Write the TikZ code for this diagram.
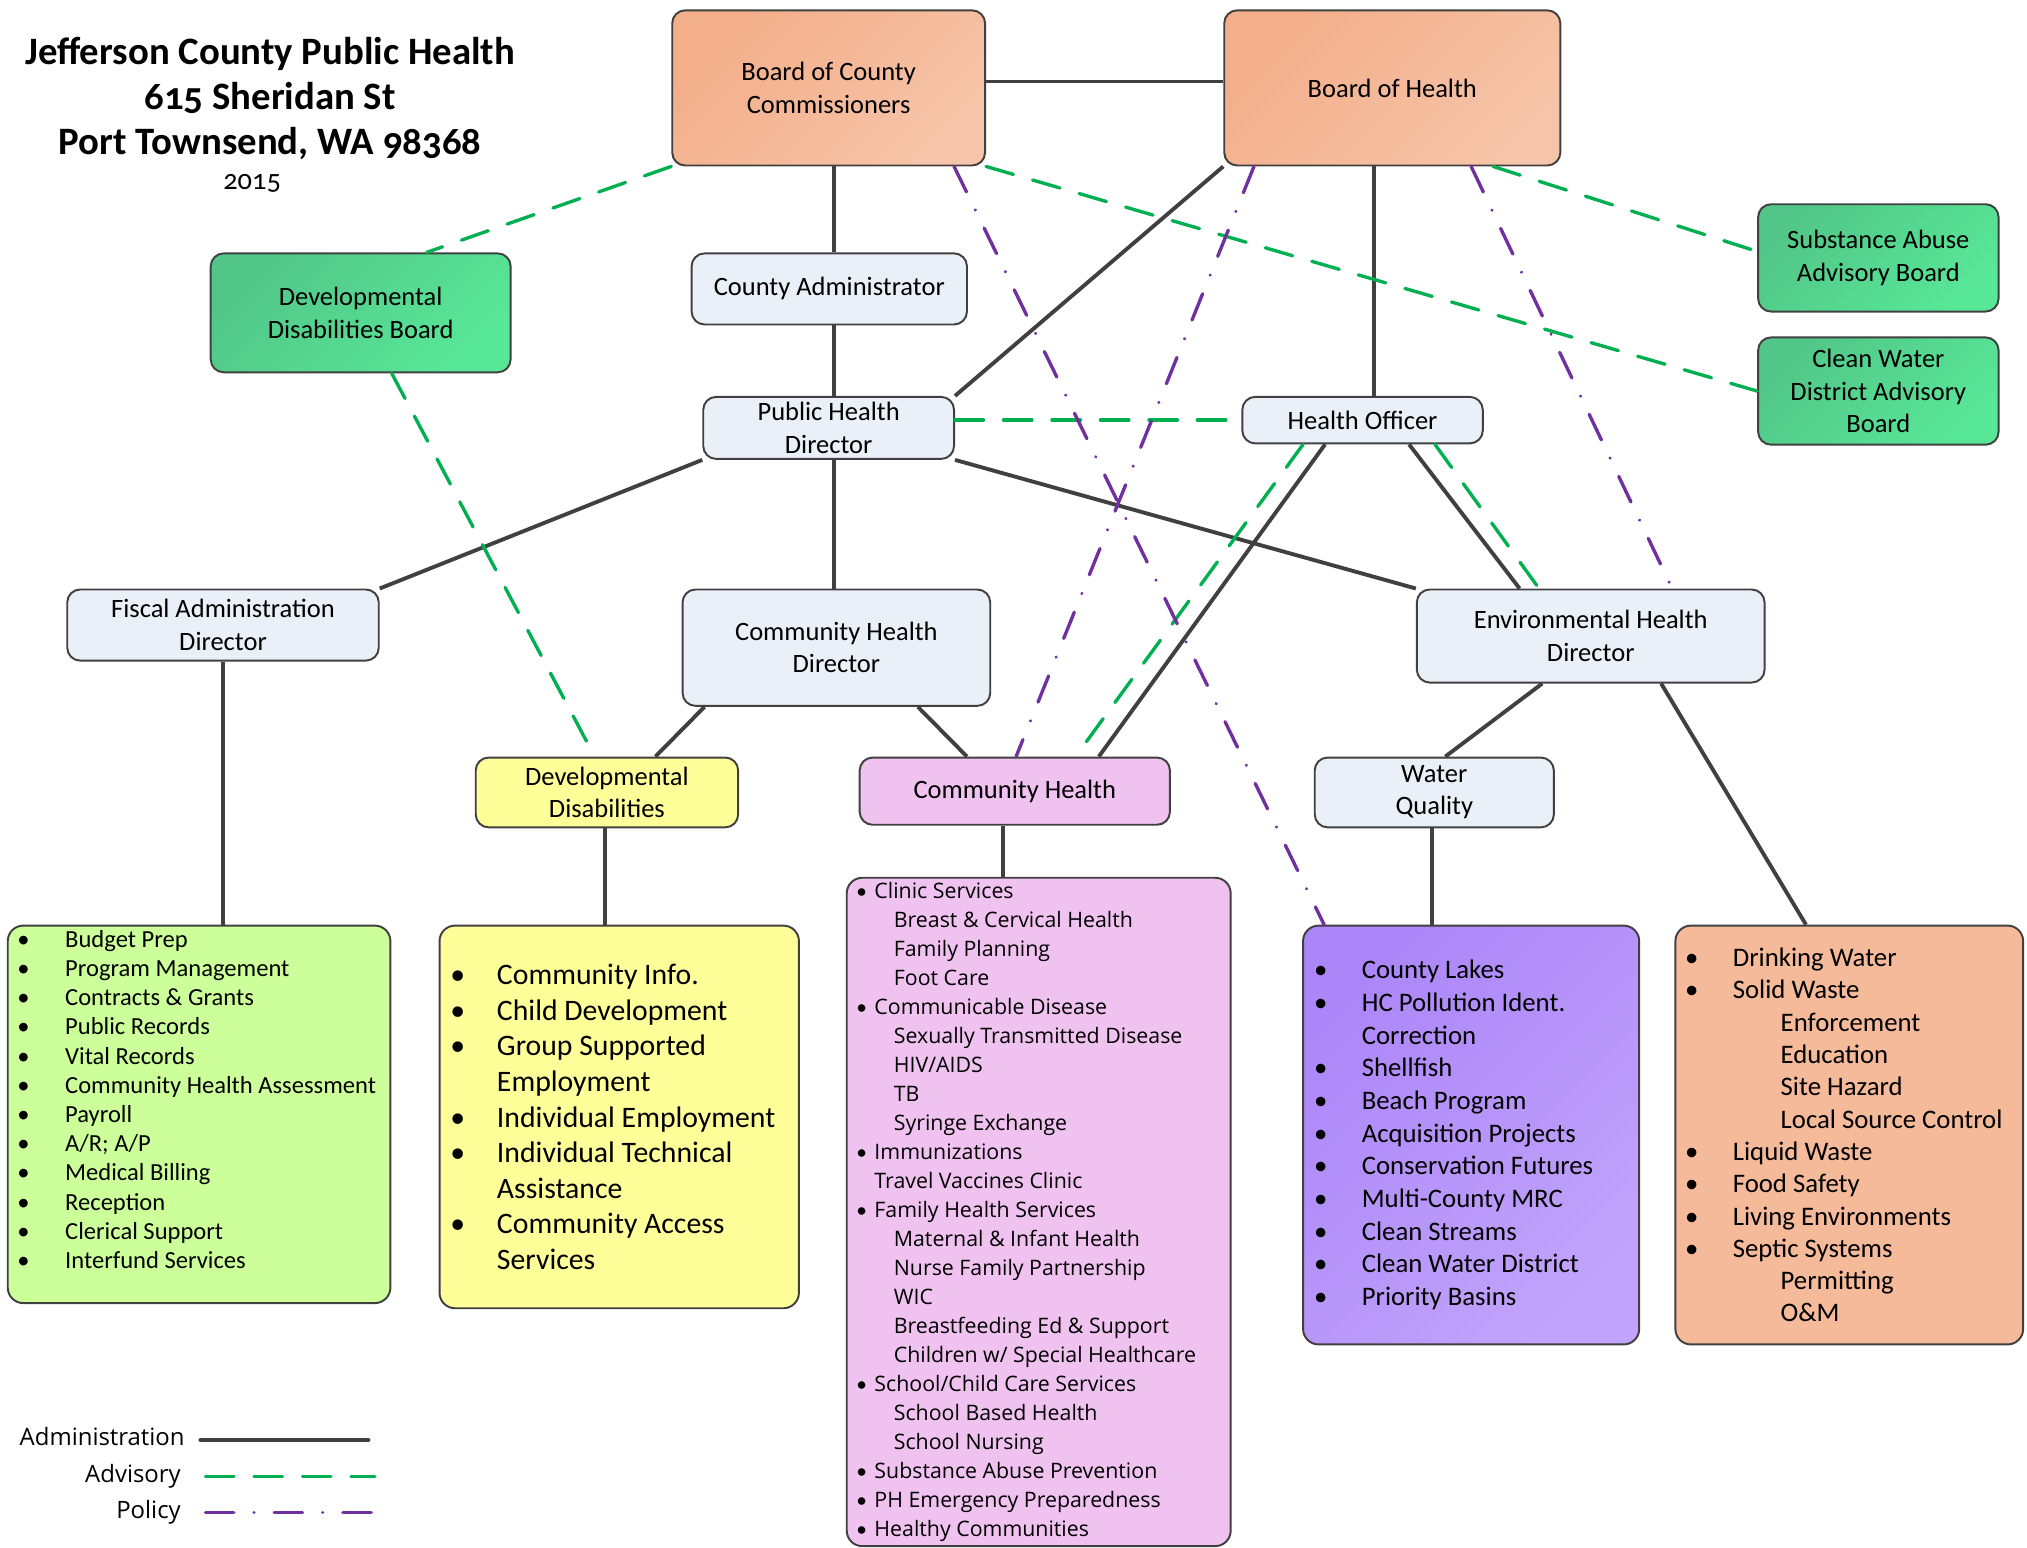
\documentclass[tikz,border=0pt]{standalone}
\usepackage{fontspec}
\setmainfont{Carlito}
\newfontfamily\segoe{Open Sans}
\newfontfamily\titlefont[Numbers=OldStyle]{Carlito}
\usepackage{tikz}
\usetikzlibrary{calc}
\definecolor{edgegray}{HTML}{404040}
\definecolor{paleblue}{HTML}{EAF0F8}
\definecolor{orangeA}{HTML}{F3AE8A}
\definecolor{orangeB}{HTML}{F6C4A8}
\definecolor{greenA}{HTML}{52C688}
\definecolor{greenB}{HTML}{58E797}
\definecolor{purpleA}{HTML}{AC86F8}
\definecolor{purpleB}{HTML}{C1A3FB}
\definecolor{devyellow}{HTML}{FFFF99}
\definecolor{chpink}{HTML}{F0C2F0}
\definecolor{fiscalgreen}{HTML}{CCFF99}
\definecolor{ehorange}{HTML}{F5BA9A}
\definecolor{adminline}{HTML}{404040}
\definecolor{advisoryline}{HTML}{00B050}
\definecolor{policyline}{HTML}{7030A0}
\newcommand{\labelsize}{\fontsize{20.5}{25}\selectfont}
\newcommand{\fiscalsize}{\fontsize{19}{22.6}\selectfont}
\newcommand{\devsize}{\fontsize{23}{27.5}\selectfont}
\newcommand{\watersize}{\fontsize{20.7}{25.3}\selectfont}
\newcommand{\envsize}{\fontsize{20.7}{25}\selectfont}
\newcommand{\pinksize}{\segoe\fontsize{16.5}{22.4}\selectfont}
\newcommand{\bul}[1]{\makebox[#1][l]{\rmfamily\textbullet}}
\tikzset{orgbox/.style={draw=edgegray,fill=#1,line width=1.5pt,rounded corners=10pt,align=center,inner sep=2pt,font=\labelsize},orgbox/.default=paleblue}
\tikzset{listbox/.style={draw=edgegray,fill=#1,line width=1.5pt,rounded corners=12pt,inner sep=0pt},listbox/.default=paleblue}
\tikzset{listtext/.style={anchor=west,align=left,inner sep=0pt,font=#1}}
\tikzset{orangeshade/.style={top color=orangeA,bottom color=orangeB,shading angle=45}}
\tikzset{greenshade/.style={top color=greenA,bottom color=greenB,shading angle=45}}
\tikzset{purpleshade/.style={top color=purpleA,bottom color=purpleB,shading angle=45}}
\tikzset{admin/.style={color=adminline,line width=3pt}}
\tikzset{advisory/.style={color=advisoryline,line width=2.6pt,line cap=round,dash pattern=on 22pt off 15.5pt}}
\tikzset{policy/.style={color=policyline,line width=2.6pt,line cap=round,dash pattern=on 21.9pt off 15.6pt on 0.01pt off 15.6pt}}
\tikzset{legendtext/.style={anchor=east,inner sep=0pt,text height=13pt,text depth=4pt,font=\segoe\fontsize{18.5}{22}\selectfont}}

\begin{document}
\begin{tikzpicture}[x=1pt,y=-1pt]
	\useasboundingbox (0,0) rectangle (1568,1197);

	% Titulo e ano
	\node [align=center,inner sep=0pt,font=\titlefont\bfseries\fontsize{30}{35}\selectfont] (title) at (209,76)
		{Jefferson County Public Health\\615 Sheridan St\\Port Townsend, WA 98368};
	\node [inner sep=0pt,font=\titlefont\fontsize{22}{25}\selectfont] (year) at (195,142) {2015};

	% Conselhos
	\node [orgbox=none,orangeshade,minimum width=242pt,minimum height=120pt] (bocc) at (641,68) {Board of County\\Commissioners};
	\node [orgbox=none,orangeshade,minimum width=260pt,minimum height=120pt] (boh) at (1077,68) {Board of Health};
	\node [orgbox=none,greenshade,minimum width=232pt,minimum height=92pt] (ddb) at (279,242) {Developmental\\Disabilities Board};
	\node [orgbox=none,greenshade,minimum width=186pt,minimum height=83pt] (saab) at (1453,199.5) {Substance Abuse\\Advisory Board};
	\node [orgbox=none,greenshade,minimum width=186pt,minimum height=83pt] (cwdab) at (1453,302.5) {Clean Water\\District Advisory\\Board};

	% Diretores
	\node [orgbox,minimum width=213pt,minimum height=55pt] (cadmin) at (641.5,223.5) {County Administrator};
	\node [orgbox,minimum width=194pt,minimum height=48pt] (phd) at (641,331) {Public Health\\Director};
	\node [orgbox,minimum width=186pt,minimum height=36pt] (ho) at (1054,325) {Health Officer};
	\node [orgbox,minimum width=241pt,minimum height=55pt] (fad) at (172.5,483.5) {Fiscal Administration\\Director};
	\node [orgbox,minimum width=238pt,minimum height=90pt] (chd) at (647,501) {Community Health\\Director};
	\node [orgbox,minimum width=269pt,minimum height=72pt] (ehd) at (1230.5,492) {Environmental Health\\Director};

	% Programas
	\node [orgbox=devyellow,minimum width=203pt,minimum height=54pt] (dd) at (469.5,613) {Developmental\\Disabilities};
	\node [orgbox=chpink,minimum width=240pt,minimum height=52pt] (ch) at (785,612) {Community Health};
	\node [orgbox,minimum width=185pt,minimum height=54pt] (wq) at (1109.5,613) {Water\\Quality};

	% Lista fiscal
	\node [listbox=fiscalgreen,minimum width=296pt,minimum height=292pt] (fadlist) at (154,862) {};
	\node [listtext=\fiscalsize] (fadtext) at ($(fadlist.west)+(8,-11.5)$) {%
		\bul{37pt}Budget Prep\\
		\bul{37pt}Program Management\\
		\bul{37pt}Contracts \& Grants\\
		\bul{37pt}Public Records\\
		\bul{37pt}Vital Records\\
		\bul{37pt}Community Health Assessment\\
		\bul{37pt}Payroll\\
		\bul{37pt}A/R; A/P\\
		\bul{37pt}Medical Billing\\
		\bul{37pt}Reception\\
		\bul{37pt}Clerical Support\\
		\bul{37pt}Interfund Services};

	% Lista deficiencias
	\node [listbox=devyellow,minimum width=278pt,minimum height=296pt] (ddlist) at (479,864) {};
	\node [listtext=\devsize] (ddtext) at ($(ddlist.west)+(9,0)$) {%
		\bul{36pt}Community Info.\\
		\bul{36pt}Child Development\\
		\bul{36pt}Group Supported\\
		\hspace*{36pt}Employment\\
		\bul{36pt}Individual Employment\\
		\bul{36pt}Individual Technical\\
		\hspace*{36pt}Assistance\\
		\bul{36pt}Community Access\\
		\hspace*{36pt}Services};

	% Lista saude comunitaria
	\node [listbox=chpink,minimum width=297pt,minimum height=517pt] (chlist) at (803.5,937.5) {};
	\node [listtext=\pinksize] (chtext) at ($(chlist.west)+(8,0)$) {%
		\bul{14pt}Clinic Services\\
		\hspace*{29pt}Breast \& Cervical Health\\
		\hspace*{29pt}Family Planning\\
		\hspace*{29pt}Foot Care\\
		\bul{14pt}Communicable Disease\\
		\hspace*{29pt}Sexually Transmitted Disease\\
		\hspace*{29pt}HIV/AIDS\\
		\hspace*{29pt}TB\\
		\hspace*{29pt}Syringe Exchange\\
		\bul{14pt}Immunizations\\
		\hspace*{14pt}Travel Vaccines Clinic\\
		\bul{14pt}Family Health Services\\
		\hspace*{29pt}Maternal \& Infant Health\\
		\hspace*{29pt}Nurse Family Partnership\\
		\hspace*{29pt}WIC\\
		\hspace*{29pt}Breastfeeding Ed \& Support\\
		\hspace*{29pt}Children w/ Special Healthcare\\
		\bul{14pt}School/Child Care Services\\
		\hspace*{29pt}School Based Health\\
		\hspace*{29pt}School Nursing\\
		\bul{14pt}Substance Abuse Prevention\\
		\bul{14pt}PH Emergency Preparedness\\
		\bul{14pt}Healthy Communities};

	% Lista qualidade da agua
	\node [listbox=none,purpleshade,minimum width=260pt,minimum height=324pt] (wqlist) at (1138,878) {};
	\node [listtext=\watersize] (wqtext) at ($(wqlist.west)+(9,0)$) {%
		\bul{37pt}County Lakes\\
		\bul{37pt}HC Pollution Ident.\\
		\hspace*{37pt}Correction\\
		\bul{37pt}Shellfish\\
		\bul{37pt}Beach Program\\
		\bul{37pt}Acquisition Projects\\
		\bul{37pt}Conservation Futures\\
		\bul{37pt}Multi-County MRC\\
		\bul{37pt}Clean Streams\\
		\bul{37pt}Clean Water District\\
		\bul{37pt}Priority Basins};

	% Lista saude ambiental
	\node [listbox=ehorange,minimum width=269pt,minimum height=324pt] (ehdlist) at (1430.5,878) {};
	\node [listtext=\envsize] (ehdtext) at ($(ehdlist.west)+(8,0)$) {%
		\bul{37pt}Drinking Water\\
		\bul{37pt}Solid Waste\\
		\hspace*{74pt}Enforcement\\
		\hspace*{74pt}Education\\
		\hspace*{74pt}Site Hazard\\
		\hspace*{74pt}Local Source Control\\
		\bul{37pt}Liquid Waste\\
		\bul{37pt}Food Safety\\
		\bul{37pt}Living Environments\\
		\bul{37pt}Septic Systems\\
		\hspace*{74pt}Permitting\\
		\hspace*{74pt}O\&M};

	% Linhas de administracao
	\draw [admin] ($(bocc.east)+(0,-5)$) -- ($(boh.west)+(0,-5)$);
	\draw [admin] ($(bocc.south)+(4,0)$) -- ($(cadmin.north)+(3.5,0)$);
	\draw [admin] ($(cadmin.south)+(3.5,0)$) -- ($(phd.north)+(4,0)$);
	\draw [admin] (boh.south west) -- (phd.north east);
	\draw [admin] ($(boh.south)+(-14,0)$) -- ($(ho.north)+(9,0)$);
	\draw [admin] (phd.south west) -- (fad.north east);
	\draw [admin] ($(phd.south)+(4,0)$) -- ($(chd.north)+(-2,0)$);
	\draw [admin] (phd.south east) -- (ehd.north west);
	\draw [admin] ($(ho.south)+(36,0)$) -- ($(ehd.north)+(-55,0)$);
	\draw [admin] ($(ho.south)+(-29,0)$) -- ($(ch.north)+(65,0)$);
	\draw [admin] (fad.south) -- ($(fadlist.north)+(18.5,0)$);
	\draw [admin] ($(chd.south)+(-102,0)$) -- ($(dd.north)+(37.5,0)$);
	\draw [admin] ($(chd.south)+(63,0)$) -- ($(ch.north)+(-37,0)$);
	\draw [admin] ($(ehd.south)+(-37.5,0)$) -- ($(wq.north)+(8.5,0)$);
	\draw [admin] ($(ehd.south)+(54.5,0)$) -- ($(ehdlist.north)+(-33.5,0)$);
	\draw [admin] ($(dd.south)+(-1.5,0)$) -- ($(ddlist.north)+(-11,0)$);
	\draw [admin] ($(ch.south)+(-9,0)$) -- ($(chlist.north)+(-27.5,0)$);
	\draw [admin] ($(wq.south)+(-1.5,0)$) -- ($(wqlist.north)+(-30,0)$);

	% Linhas consultivas
	\draw [advisory] (bocc.south west) -- ($(ddb.north)+(51,0)$);
	\draw [advisory] ($(ddb.south)+(24,0)$) -- ($(dd.north)+(-9.5,0)$);
	\draw [advisory] (bocc.south east) -- (cwdab.west);
	\draw [advisory] ($(boh.south)+(78,0)$) -- ($(saab.west)+(0,-5)$);
	\draw [advisory] ($(phd.east)+(0,-6)$) -- (ho.west);
	\draw [advisory] ($(ho.south)+(-46,0)$) -- ($(ch.north)+(47,0)$);
	\draw [advisory] ($(ho.south)+(56,0)$) -- ($(ehd.north)+(-40,0)$);

	% Linhas de politica
	\draw [policy] ($(bocc.south)+(97,0)$) -- ($(wqlist.north west)+(17,0)$);
	\draw [policy] ($(boh.south)+(-107,0)$) -- ($(ch.north)+(1,0)$);
	\draw [policy] ($(boh.south)+(61,0)$) -- ($(ehd.north)+(63,0)$);

	% Legenda
	\node [legendtext] (legadmin) at (143,1114) {Administration};
	\node [legendtext] (legadvisory) at (140,1142) {Advisory};
	\node [legendtext] (legpolicy) at (140,1170) {Policy};
	\draw [admin,line cap=round] ($(legadmin.east)+(12,0)$) -- ++(130,0);
	\draw [advisory] ($(legadvisory.east)+(19,0)$) -- ++(131,0);
	\draw [policy] ($(legpolicy.east)+(19,0)$) -- ++(131,0);

\end{tikzpicture}
\end{document}
